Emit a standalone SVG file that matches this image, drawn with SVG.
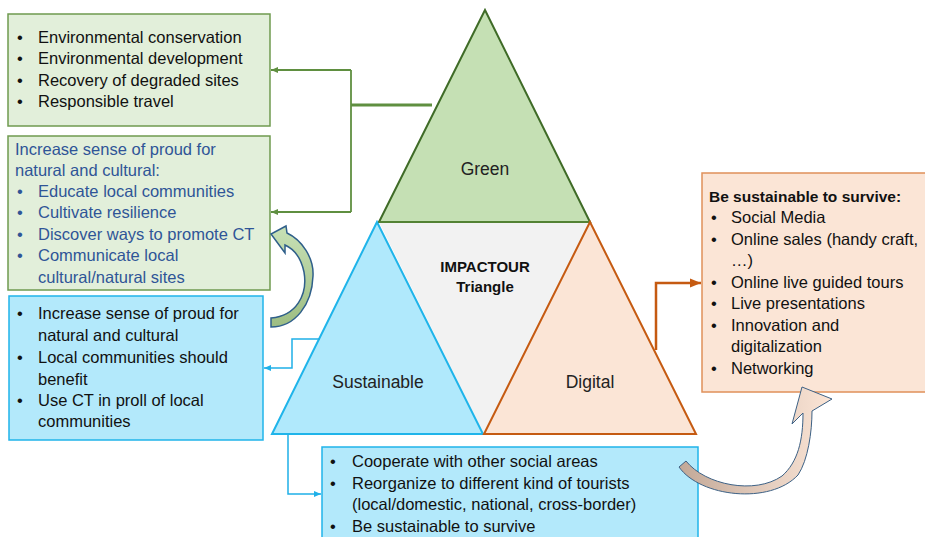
<svg xmlns="http://www.w3.org/2000/svg" width="925" height="537" viewBox="0 0 925 537">
<style>
text{font-family:"Liberation Sans",Arial,sans-serif;font-size:16.5px;fill:#111}
.blue{fill:#2f5597}
.lbl{font-size:17.5px;text-anchor:middle;fill:#222}
.b{font-weight:bold}
.gbox{fill:#e2efda;stroke:#6f9a4f;stroke-width:1.5}
.cbox{fill:#b3e9fb;stroke:#20b4ea;stroke-width:1.5}
.obox{fill:#fbe5d6;stroke:#e0905a;stroke-width:1.5}
.gc{fill:none;stroke:#5f8f40;stroke-width:1.8}
.bc{fill:none;stroke:#1fb0e8;stroke-width:1.5}
.oc{fill:none;stroke:#c55a11;stroke-width:2.5}
</style>
<defs>
<marker id="ag" markerUnits="userSpaceOnUse" markerWidth="8" markerHeight="8" refX="7" refY="4" orient="auto"><path d="M0,1 L7,4 L0,7 Z" fill="#5f8f40"/></marker>
<marker id="ab" markerUnits="userSpaceOnUse" markerWidth="8" markerHeight="8" refX="7" refY="4" orient="auto"><path d="M0,1 L7,4 L0,7 Z" fill="#1fb0e8"/></marker>
<marker id="ao" markerUnits="userSpaceOnUse" markerWidth="12" markerHeight="10" refX="11" refY="5" orient="auto"><path d="M0,0.5 L11,5 L0,9.5 Z" fill="#c55a11"/></marker>
<linearGradient id="gg" x1="0" y1="1" x2="0" y2="0"><stop offset="0" stop-color="#9dbd82"/><stop offset="1" stop-color="#c8e1b6"/></linearGradient>
<linearGradient id="og" x1="0" y1="0" x2="1" y2="0"><stop offset="0" stop-color="#c2a897"/><stop offset="0.6" stop-color="#e6cfc0"/><stop offset="1" stop-color="#fbe5d6"/></linearGradient>
</defs>

<g id="triangle">
<polygon points="379,222 590,222 484,434" fill="#f2f2f2"/>
<polygon id="green-tri" points="485,10 379,222 590,222" fill="#c5e0b4" stroke="#3f6b27" stroke-width="2" stroke-linejoin="miter"/>
<line x1="379" y1="222" x2="590" y2="222" stroke="#5b8a3a" stroke-width="1.5"/>
<polygon id="blue-tri" points="377,222 272,434 483,434" fill="#b0e9fc" stroke="#1fb4ea" stroke-width="2"/>
<polygon id="orange-tri" points="590,222 484,434 696,434" fill="#fbe5d6" stroke="#c55a11" stroke-width="2"/>
<text class="lbl" x="485" y="175">Green</text>
<text class="lbl" x="378" y="388">Sustainable</text>
<text class="lbl" x="590" y="388">Digital</text>
<text class="b" x="485" y="272" text-anchor="middle" style="font-size:15px">IMPACTOUR</text>
<text class="b" x="485" y="292" text-anchor="middle" style="font-size:15px">Triangle</text>
</g>

<g id="green-box-1">
<rect class="gbox" x="8" y="14" width="262" height="112"/>
<text x="17" y="43">•</text><text x="38" y="43">Environmental conservation</text>
<text x="17" y="64">•</text><text x="38" y="64">Environmental development</text>
<text x="17" y="86">•</text><text x="38" y="86">Recovery of degraded sites</text>
<text x="17" y="107">•</text><text x="38" y="107">Responsible travel</text>
</g>

<g id="green-box-2">
<rect class="gbox" x="8" y="136" width="262" height="154"/>
<text class="blue" x="15" y="155">Increase sense of proud for</text>
<text class="blue" x="15" y="176">natural and cultural:</text>
<text class="blue" x="17" y="197">•</text><text class="blue" x="38" y="197">Educate local communities</text>
<text class="blue" x="17" y="218">•</text><text class="blue" x="38" y="218">Cultivate resilience</text>
<text class="blue" x="17" y="240">•</text><text class="blue" x="38" y="240">Discover ways to promote CT</text>
<text class="blue" x="17" y="261">•</text><text class="blue" x="38" y="261">Communicate local</text>
<text class="blue" x="38" y="283">cultural/natural sites</text>
</g>

<g id="blue-box-left">
<rect class="cbox" x="9" y="296" width="254" height="144"/>
<text x="17" y="319">•</text><text x="38" y="319">Increase sense of proud for</text>
<text x="38" y="341">natural and cultural</text>
<text x="17" y="363">•</text><text x="38" y="363">Local communities should</text>
<text x="38" y="385">benefit</text>
<text x="17" y="406">•</text><text x="38" y="406">Use CT in proll of local</text>
<text x="38" y="427">communities</text>
</g>

<g id="blue-box-bottom">
<rect class="cbox" x="322" y="447" width="376" height="100"/>
<text x="330" y="467">•</text><text x="352" y="467">Cooperate with other social areas</text>
<text x="330" y="489">•</text><text x="352" y="489">Reorganize to different kind of tourists</text>
<text x="352" y="510">(local/domestic, national, cross-border)</text>
<text x="330" y="532">•</text><text x="352" y="532">Be sustainable to survive</text>
</g>

<g id="orange-box">
<rect class="obox" x="702" y="173" width="233" height="219"/>
<text class="b" x="709" y="202" style="font-size:15.5px">Be sustainable to survive:</text>
<text x="711" y="223">•</text><text x="731" y="223">Social Media</text>
<text x="711" y="245">•</text><text x="731" y="245">Online sales (handy craft,</text>
<text x="731" y="266">…)</text>
<text x="711" y="288">•</text><text x="731" y="288">Online live guided tours</text>
<text x="711" y="309">•</text><text x="731" y="309">Live presentations</text>
<text x="711" y="331">•</text><text x="731" y="331">Innovation and</text>
<text x="731" y="352">digitalization</text>
<text x="711" y="374">•</text><text x="731" y="374">Networking</text>
</g>

<g id="connectors">
<line class="gc" x1="432" y1="105" x2="351" y2="105" style="stroke-width:3"/>
<path class="gc" d="M351,70 L351,212"/>
<path class="gc" d="M351,70 L271,70" marker-end="url(#ag)"/>
<path class="gc" d="M351,212 L271,212" marker-end="url(#ag)"/>
<path class="bc" d="M320,339 L292,339 L292,368 L264,368" marker-end="url(#ab)"/>
<path class="bc" d="M288,434 L288,494 L321,494" marker-end="url(#ab)"/>
<path class="oc" d="M656,350 L656,283 L701,283" marker-end="url(#ao)"/>
<path id="curve-green" d="M271,318 C296,316 308,295 304,272 C301,258 294,249 285,245 L285,253 L271,234 L286,226 L287,233 C302,240 314,258 313,276 C312,305 295,327 271,327 Z" fill="url(#gg)" stroke="#2f5f8a" stroke-width="1.5" stroke-linejoin="miter"/>
<path id="curve-orange" d="M679,467 C700,497 770,505 798,475 C808,460 812,432 812,411 L832,399 L802,387 L792,424 L803,413 C803,440 798,462 782,476 C755,495 705,485 686,461 Z" fill="url(#og)" stroke="#3d6185" stroke-width="1"/>
</g>
</svg>
